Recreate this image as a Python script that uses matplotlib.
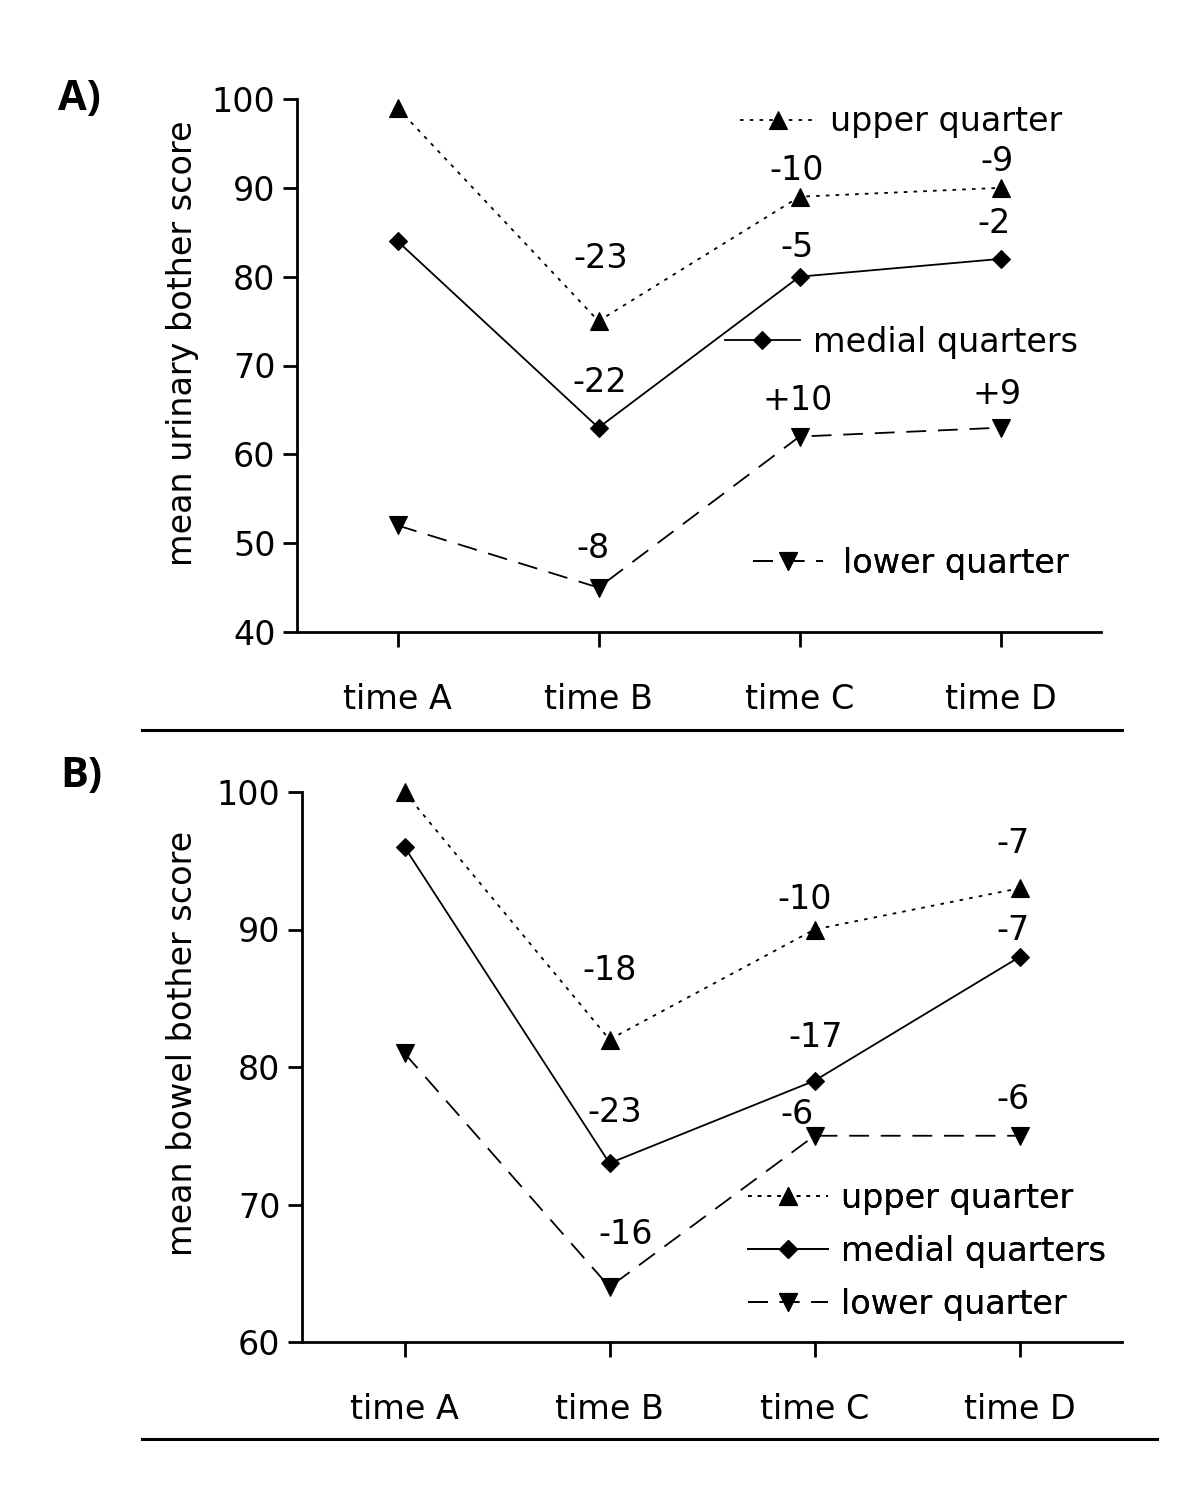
import matplotlib
matplotlib.use("Agg")
import matplotlib.pyplot as plt
from matplotlib.lines import Line2D

# ---------------- data ----------------
time_labels = ["time A", "time B", "time C", "time D"]

urinary_upper = [99, 75, 89, 90]
urinary_medial = [84, 63, 80, 82]
urinary_lower = [52, 45, 62, 63]
urinary_upper_txt = ["", "-23", "-10", "-9"]
urinary_medial_txt = ["", "-22", "-5", "-2"]
urinary_lower_txt = ["", "-8", "+10", "+9"]

bowel_upper = [100, 82, 90, 93]
bowel_medial = [96, 73, 79, 88]
bowel_lower = [81, 64, 75, 75]
bowel_upper_txt = ["", "-18", "-10", "-7"]
bowel_medial_txt = ["", "-23", "-17", "-7"]
bowel_lower_txt = ["", "-16", "-6", "-6"]

series_names = ["upper quarter", "medial quarters", "lower quarter"]

# ---------------- label offsets (pixels, visual centre relative to point) -----
off_u_up = [None, (2, 66), (-3, 29), (-4, 29)]
off_u_med = [None, (1, 48), (-3, 32), (-6, 38)]
off_u_low = [None, (-6, 42), (-2, 39), (-3, 36)]
off_b_up = [None, (0, 72), (-10, 33), (-7, 48)]
off_b_med = [None, (5, 54), (1, 46), (-7, 30)]
off_b_low = [None, (16, 55), (-18, 24), (-7, 39)]

# ---------------- style ----------------
plt.rcParams["font.family"] = ["DejaVu Sans"]
FS = 24
FPX = FS * 100 / 72  # font size in pixels
W, H = 1200, 1507
LW = 1.3
DOT = (0, (2.0, 3.4))
DASH = (0, (11, 6.5))

fig = plt.figure(figsize=(W / 100, H / 100), dpi=100)


def make_axes(left, right, top, bottom):
    return fig.add_axes([left / W, 1 - bottom / H, (right - left) / W, (bottom - top) / H])


def style_axes(ax, ylo, yhi, ylabel, label_x):
    ax.set_xlim(-0.5, 3.5)
    ax.set_ylim(ylo, yhi)
    ax.set_yticks(range(ylo, yhi + 1, 10))
    ax.set_xticks(range(len(time_labels)))
    ax.set_xticklabels(time_labels)
    for s in ("top", "right"):
        ax.spines[s].set_visible(False)
    for s in ("left", "bottom"):
        ax.spines[s].set_linewidth(2.0)
    ax.tick_params(axis="y", direction="out", length=10, width=2, pad=5.5, labelsize=FS)
    ax.tick_params(axis="x", direction="out", length=10.5, width=2, pad=26, labelsize=FS)
    ax.set_ylabel(ylabel, fontsize=FS)
    ax.yaxis.set_label_coords(label_x, 0.542)


def draw_series(ax, vals, marker, ms, ls, texts, offsets):
    (ln,) = ax.plot(range(len(vals)), vals, color="black", lw=LW, linestyle=ls,
                    marker=marker, markersize=ms, markerfacecolor="black",
                    markeredgecolor="black", markeredgewidth=0.8, clip_on=False)
    for i, (t, o) in enumerate(zip(texts, offsets)):
        if t and o is not None:
            ax.annotate(t, xy=(i, vals[i]), xytext=(o[0], o[1] - 3),
                        textcoords="offset pixels", ha="center", va="center",
                        fontsize=FS)
    return ln


def add_legend(ax, handles, labels, x, y, hl_px, htp_px, lsp=0.5):
    leg = ax.legend(handles, labels, loc="center left", bbox_to_anchor=(x, y),
                    frameon=False, borderpad=0, borderaxespad=0,
                    handlelength=hl_px / FPX, handletextpad=htp_px / FPX,
                    labelspacing=lsp, fontsize=FS, numpoints=1)
    ax.add_artist(leg)


# ---------------- panel A ----------------
axA = make_axes(297, 1101, 99, 632)
style_axes(axA, 40, 100, "mean urinary bother score", -0.122)
hA1 = draw_series(axA, urinary_upper, "^", 12.5, DOT, urinary_upper_txt, off_u_up)
hA2 = draw_series(axA, urinary_medial, "D", 9, "-", urinary_medial_txt, off_u_med)
hA3 = draw_series(axA, urinary_lower, "v", 12.5, DASH, urinary_lower_txt, off_u_low)
add_legend(axA, [hA1], [series_names[0]], 0.551, 0.957, 75, 15)
add_legend(axA, [hA2], [series_names[1]], 0.532, 0.544, 75, 13)
add_legend(axA, [hA3], [series_names[2]], 0.567, 0.129, 70, 20)

# ---------------- panel B ----------------
axB = make_axes(302, 1122, 792, 1342)
style_axes(axB, 60, 100, "mean bowel bother score", -0.126)
hB1 = draw_series(axB, bowel_upper, "^", 12.5, DOT, bowel_upper_txt, off_b_up)
hB2 = draw_series(axB, bowel_medial, "D", 9, "-", bowel_medial_txt, off_b_med)
hB3 = draw_series(axB, bowel_lower, "v", 12.5, DASH, bowel_lower_txt, off_b_low)
add_legend(axB, [hB1, hB2, hB3], series_names, 0.544, 0.165, 80, 13, 0.6)

# ---------------- panel letters & separators ----------------
fig.text(58 / W, 1 - 100 / H, "A)", fontsize=30, fontweight="bold",
         family=["Open Sans", "DejaVu Sans"], ha="left", va="center")
fig.text(60 / W, 1 - 777 / H, "B)", fontsize=30, fontweight="bold",
         family=["Open Sans", "DejaVu Sans"], ha="left", va="center")
fig.add_artist(Line2D([142 / W, 1122 / W], [1 - 730 / H] * 2, transform=fig.transFigure,
                      color="black", lw=2.2))
fig.add_artist(Line2D([142 / W, 1157 / W], [1 - 1439 / H] * 2, transform=fig.transFigure,
                      color="black", lw=2.2))

fig.savefig("out.png", dpi=100, facecolor="white")
